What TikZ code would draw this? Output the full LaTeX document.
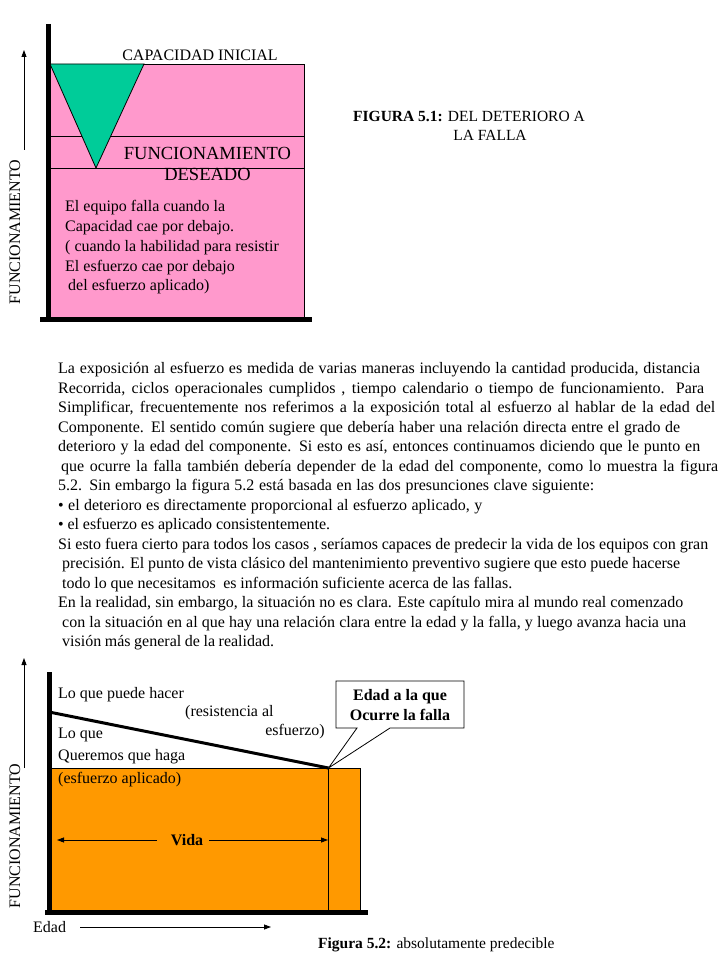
\documentclass[tikz,border=0pt]{standalone}
\usepackage{fontspec}
\setmainfont{Liberation Serif}
\usetikzlibrary{arrows.meta}
\definecolor{pinkf}{HTML}{FF99CC}
\definecolor{greenf}{HTML}{00CC99}
\definecolor{orangef}{HTML}{FF9900}
\newcommand\pline[5]{\node[lbl] (#1) at (#2,#3) {\hbox to #4pt{#5}};}
\begin{document}
\begin{tikzpicture}[x=1pt,y=-1pt,
  font=\fontsize{16}{20}\selectfont,
  axis/.style={line width=5pt},
  thinl/.style={line width=0.8pt},
  lbl/.style={inner sep=0pt, anchor=west},
  arr/.style={-{Triangle[length=7pt,width=5pt]}, line width=0.8pt},
  rot/.style={rotate=90, inner sep=0pt, font=\fontsize{16}{18}\selectfont},
  captxt/.style={font=\fontsize{15.5}{20}\selectfont},
]
\useasboundingbox (0,0) rectangle (720,960);

% ---------------- Figure 5.1 ----------------
\coordinate (t1) at (48,64);
\coordinate (t2) at (304,319);
\fill[pinkf] (t1) rectangle (t2);
\draw[thinl] (48,64) -- (304,64) -- (304,319);
\draw[thinl] (48,136) -- (304,136);
\draw[thinl] (48,168) -- (304,168);
\filldraw[fill=greenf, draw=black, thinl] (50,64) -- (144,64) -- (96,168) -- cycle;
\draw[axis] (48,24) -- (48,321);
\draw[axis] (40,319.5) -- (312,319.5);

\node[inner sep=0pt] (capini) at (200,55) {CAPACIDAD INICIAL};
\node[inner sep=0pt, align=center, font=\fontsize{18.5}{21.5}\selectfont] (fdes) at (207.5,164) {FUNCIONAMIENTO\\DESEADO};
\node[lbl] (b1) at (65,208) {El equipo falla cuando la};
\node[lbl] (b2) at (65,228) {Capacidad cae por debajo.};
\node[lbl] (b3) at (65,248) {( cuando la habilidad para resistir};
\node[lbl] (b4) at (65,268) {El esfuerzo cae por debajo};
\node[lbl] (b5) at (68,287) {del esfuerzo aplicado)};

\coordinate (ua1) at (24,150);
\coordinate (ua2) at (24,50);
\draw[arr] (ua1) -- (ua2);
\node[rot] (fun1) at (15,232) {FUNCIONAMIENTO};

\node[lbl, captxt] (fig1) at (353,116) {\textbf{FIGURA 5.1:} DEL DETERIORO A};
\node[inner sep=0pt, captxt] (fig1b) at (490,135) {LA FALLA};

% ---------------- Paragraph ----------------
\pline{p1}{58}{370}{642}{La exposición al esfuerzo es medida de varias maneras incluyendo la cantidad producida, distancia}
\pline{p2}{58}{389.5}{646}{Recorrida, ciclos operacionales cumplidos , tiempo calendario o tiempo de funcionamiento. Para}
\pline{p3}{58}{409}{657}{Simplificar, frecuentemente nos referimos a la exposición total al esfuerzo al hablar de la edad del}
\pline{p4}{58}{428.5}{622}{Componente. El sentido común sugiere que debería haber una relación directa entre el grado de}
\pline{p5}{58}{448}{642}{deterioro y la edad del componente. Si esto es así, entonces continuamos diciendo que le punto en}
\pline{p6}{61}{467.5}{657}{que ocurre la falla también debería depender de la edad del componente, como lo muestra la figura}
\pline{p7}{58}{487}{536}{5.2. Sin embargo la figura 5.2 está basada en las dos presunciones clave siguiente:}
\pline{p8}{58}{506.5}{424}{• el deterioro es directamente proporcional al esfuerzo aplicado, y}
\pline{p9}{58}{526}{272}{• el esfuerzo es aplicado consistentemente.}
\pline{p10}{58}{545.5}{650}{Si esto fuera cierto para todos los casos , seríamos capaces de predecir la vida de los equipos con gran}
\pline{p11}{62}{565}{618}{precisión. El punto de vista clásico del mantenimiento preventivo sugiere que esto puede hacerse}
\pline{p12}{62}{584.5}{450}{todo lo que necesitamos \ es información suficiente acerca de las fallas.}
\pline{p13}{58}{604}{625}{En la realidad, sin embargo, la situación no es clara. Este capítulo mira al mundo real comenzado}
\pline{p14}{62}{623.5}{624}{con la situación en al que hay una relación clara entre la edad y la falla, y luego avanza hacia una}
\pline{p15}{62}{643}{212}{visión más general de la realidad.}

% ---------------- Figure 5.2 ----------------
\coordinate (o1) at (49,768);
\coordinate (o2) at (360,912);
\filldraw[fill=orangef, draw=black, thinl] (o1) rectangle (o2);
\draw[thinl] (328.5,768) -- (328.5,912);
\coordinate (sl1) at (49,712);
\coordinate (sl2) at (328.5,768);
\draw[line width=3pt] (sl1) -- (sl2);
\draw[axis] (49,672) -- (49,914);
\draw[axis] (45,912) -- (368,912);

\node[lbl] (q1) at (58,695) {Lo que puede hacer};
\node[lbl] (q2) at (185,713) {(resistencia al};
\node[inner sep=0pt, anchor=east] (q3) at (325,732) {esfuerzo)};
\node[lbl] (q4) at (58,735) {Lo que};
\node[lbl] (q5) at (58,757) {Queremos que haga};
\node[lbl] (q6) at (58,780) {(esfuerzo aplicado)};

\node[inner sep=0pt, font=\fontsize{16}{20}\selectfont\bfseries] (vida) at (187,840) {Vida};
\coordinate (vl) at (57,840);
\coordinate (vr) at (328,840);
\draw[arr] (vida.west) ++(-14,0) -- (vl);
\draw[arr] (vida.east) ++(6,0) -- (vr);

% callout
\filldraw[fill=white, draw=black, thinl] (336,681) -- (464,681) -- (464,728) -- (390,728) -- (sl2) -- (357,728) -- (336,728) -- cycle;
\node[inner sep=0pt, align=center, font=\fontsize{16}{20}\selectfont\bfseries] (call) at (400,705) {Edad a la que\\Ocurre la falla};

\coordinate (la1) at (24,768);
\coordinate (la2) at (24,658);
\draw[arr] (la1) -- (la2);
\node[rot] (fun2) at (15,836) {FUNCIONAMIENTO};

\node[lbl] (edad) at (33,927) {Edad};
\coordinate (ea1) at (80,927);
\coordinate (ea2) at (271,927);
\draw[arr] (ea1) -- (ea2);

\node[lbl, captxt] (fig2) at (318,945) {\textbf{Figura 5.2:} absolutamente predecible};
\end{tikzpicture}
\end{document}
